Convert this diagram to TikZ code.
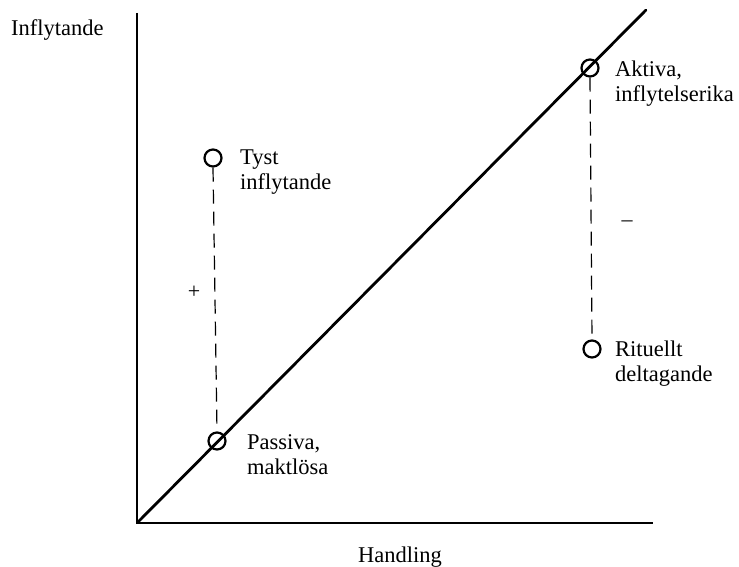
\documentclass[tikz,border=0pt]{standalone}
\usepackage{fontspec}
\setmainfont{Liberation Serif}
\begin{document}
\begin{tikzpicture}[x=1pt,y=-1pt,
  axis/.style={line width=2.4pt},
  trend/.style={line width=2.8pt, line cap=round},
  state/.style={circle, draw, line width=2.2pt, minimum size=17pt, inner sep=0pt},
  link/.style={line width=1.2pt, dash pattern=on 14pt off 8pt},
  lbl/.style={font=\fontsize{22.5}{25}\selectfont, align=left, inner sep=0pt, anchor=north west},
  sign/.style={font=\fontsize{22}{24}\selectfont, inner sep=0pt}]
  \useasboundingbox (0,0) rectangle (739,567);

  % axes
  \coordinate (O) at (137,523);
  \coordinate (ytop) at (137,13);
  \coordinate (xend) at (653,523);
  \draw[axis] (ytop) -- (O) -- (xend);
  \node[lbl, anchor=base west] (ylab) at (11,36) {Inflytande};
  \node[lbl, anchor=base] (xlab) at (400,562) {Handling};

  % diagonal
  \coordinate (dstart) at (139,521);
  \coordinate (dend) at (646,10);
  \draw[trend] (dstart) -- (dend);

  % states
  \node[state] (tyst) at (213,158) {};
  \node[state] (pass) at (217,441) {};
  \node[state] (akt) at (590,68) {};
  \node[state] (rit) at (592,349) {};

  \draw[link] (tyst.south) -- (pass.north);
  \draw[link] (akt.south) -- (rit.north);

  \node[lbl] (tystl) at (240,150) {Tyst\\inflytande};
  \node[lbl] (passl) at (247,434) {Passiva,\\maktlösa};
  \node[lbl] (aktl) at (615,61) {Aktiva,\\inflytelserika};
  \node[lbl] (ritl) at (615,341) {Rituellt\\deltagande};

  \node[sign] (plus) at (194,292) {+};
  \node[sign] (minus) at (627,224) {--};
\end{tikzpicture}
\end{document}
